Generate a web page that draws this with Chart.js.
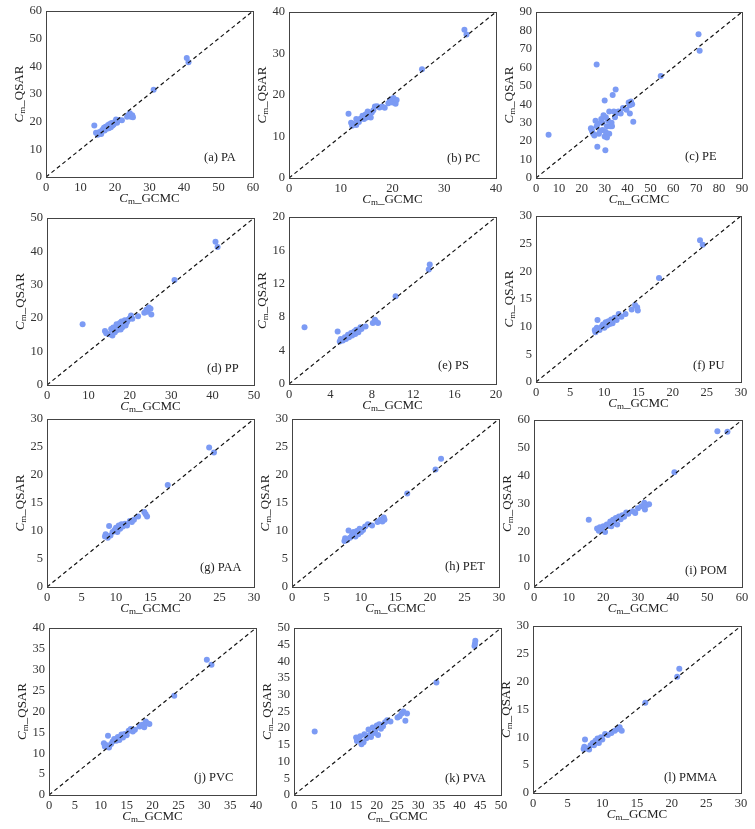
<!DOCTYPE html>
<html>
<head>
<meta charset="utf-8">
<script src="https://cdn.jsdelivr.net/npm/chart.js@4.4.0/dist/chart.umd.min.js"></script>
<style>
  html, body { margin: 0; padding: 0; background: #fff; }
  #wrap { position: relative; width: 755px; height: 829px; background: #fff; overflow: hidden; }
  #wrap canvas { position: absolute; }
</style>
</head>
<body>
<div id="wrap"></div>
<script>
// panel names and axis ranges
var panelNames = ['(a) PA', '(b) PC', '(c) PE', '(d) PP', '(e) PS', '(f) PU',
                  '(g) PAA', '(h) PET', '(i) POM', '(j) PVC', '(k) PVA', '(l) PMMA'];
var axisMax = [60, 40, 90, 50, 20, 30, 30, 30, 60, 40, 50, 30];
var tickStep = [10, 10, 10, 10, 4, 5, 5, 5, 10, 5, 5, 5];

// Cm_GCMC (x) and Cm_QSAR (y) per polymer
var paX = [14.0,14.5,15.0,15.5,16.0,16.3,16.8,17.0,17.3,17.6,18.0,18.2,18.5,18.8,19.0,19.3,19.6,20.0,20.3,20.6,21.0,22.0,23.5,24.0,24.3,24.6,25.0,25.2,31.2,40.8,41.3];
var paY = [18.6,16.0,15.3,16.3,15.5,17.0,17.8,16.8,18.2,17.4,18.8,17.6,19.2,18.0,19.5,18.6,19.0,20.0,20.8,19.6,20.6,20.5,21.8,22.5,23.0,21.8,22.3,21.6,31.5,43.0,41.5];

var pcX = [11.5,12.0,12.2,12.5,13.0,13.0,13.5,13.8,14.2,14.5,14.8,15.0,15.2,15.5,15.8,16.0,16.3,16.6,17.0,17.5,18.0,18.5,19.2,19.5,19.8,20.0,20.2,20.5,20.6,20.8,25.7,33.9,34.3];
var pcY = [15.5,13.3,12.6,13.0,12.8,14.2,13.5,14.3,15.0,14.2,15.3,14.6,16.0,15.2,14.6,15.8,16.3,17.2,17.3,17.0,17.2,16.9,18.0,18.6,19.0,18.2,19.3,18.8,17.9,18.8,26.2,35.7,34.6];

var peX = [5.5,24.0,24.5,24.2,25.0,25.5,26.0,26.5,27.0,26.8,26.5,27.5,28.0,28.5,29.0,29.0,29.5,30.0,30.0,30.3,30.5,30.5,31.0,31.0,31.5,32.0,32.0,32.5,33.0,33.5,33.2,34.0,34.5,34.8,35.0,36.0,37.0,38.0,39.5,40.5,41.0,41.0,41.5,42.0,42.5,54.5,71.0,71.5];
var peY = [23.5,27.0,25.5,26.5,24.0,23.0,31.0,28.0,29.5,17.0,61.5,24.0,25.5,32.0,26.0,30.0,34.0,22.5,42.0,15.0,33.0,25.0,28.0,22.0,31.0,24.0,36.0,28.0,30.0,45.0,28.0,36.0,33.0,48.0,35.0,36.0,35.0,38.0,37.0,41.0,35.0,39.5,41.5,40.0,30.5,55.3,78.0,69.0];

var ppX = [8.6,14.0,14.3,15.0,15.5,15.8,16.0,16.4,16.8,17.0,17.3,17.6,17.8,18.0,18.2,18.5,18.8,19.0,19.3,19.6,20.0,20.3,20.6,22.0,23.5,24.0,24.3,24.6,25.0,25.2,30.8,40.7,41.2];
var ppY = [18.2,16.2,15.5,15.2,16.8,14.8,17.2,15.8,18.2,16.5,17.6,18.6,16.6,19.0,17.3,18.2,19.4,17.8,18.8,19.5,20.0,20.8,19.8,20.6,21.6,22.5,21.9,23.2,22.8,21.1,31.4,42.9,41.3];

var psX = [1.5,4.7,4.9,5.0,5.2,5.4,5.5,5.7,5.8,6.0,6.1,6.3,6.4,6.5,6.7,6.9,7.0,7.4,8.1,8.3,8.4,8.6,10.3,13.5,13.6];
var psY = [6.8,6.3,5.1,5.4,5.2,5.6,5.4,5.9,5.6,6.1,5.8,6.3,6.0,6.5,6.2,6.8,6.6,6.9,7.3,7.7,7.5,7.3,10.5,13.7,14.3];

var puX = [8.6,8.7,8.9,9.0,9.3,9.6,9.8,10.0,10.2,10.4,10.6,10.8,11.0,11.2,11.5,11.8,12.1,12.5,13.1,14.0,14.5,14.8,14.9,18.0,24.0,24.4];
var puY = [9.4,9.0,9.8,11.2,9.4,10.0,10.4,9.8,10.8,10.2,11.0,10.5,11.3,10.6,11.6,11.2,12.3,11.8,12.3,13.1,13.9,13.5,12.9,18.8,25.6,24.8];

var paaX = [8.4,8.5,8.8,9.0,9.2,9.5,9.8,10.0,10.2,10.4,10.6,10.8,11.0,11.3,11.6,12.0,12.3,12.6,13.2,14.1,14.3,14.5,17.5,23.5,24.2];
var paaY = [9.0,9.4,8.8,10.9,9.2,9.8,10.2,10.6,9.8,11.0,10.4,11.2,10.8,11.3,11.0,11.8,11.6,12.0,12.6,13.4,13.0,12.6,18.2,24.9,24.0];

var petX = [7.6,7.7,8.0,8.2,8.4,8.7,8.9,9.2,9.4,9.6,9.8,10.0,10.3,10.6,11.0,11.6,12.4,12.8,13.1,13.3,13.4,16.7,20.8,21.6];
var petY = [8.2,8.7,8.4,10.1,8.8,9.3,9.8,9.0,10.0,9.4,10.4,9.8,10.2,10.8,11.2,11.0,11.6,12.0,11.7,12.4,12.0,16.7,21.0,22.9];

var pomX = [15.8,18.2,18.7,19.0,19.5,20.0,20.5,21.0,21.5,22.0,22.3,22.8,23.2,23.6,24.0,24.5,25.0,25.5,26.0,26.6,27.2,28.5,29.2,30.0,31.0,31.8,32.0,32.5,33.2,40.5,52.9,55.8];
var pomY = [24.2,21.0,20.2,21.5,20.8,21.8,19.8,22.5,22.0,23.5,21.8,24.2,23.0,24.8,22.5,25.3,24.3,25.8,25.2,26.8,26.3,27.2,26.6,28.3,29.0,30.3,27.8,29.5,29.7,41.2,56.0,55.8];

var pvcX = [10.6,10.8,11.0,11.4,11.6,12.0,12.3,12.6,13.0,13.3,13.6,14.0,14.3,14.6,15.0,15.4,15.8,16.2,16.6,17.5,18.0,18.4,18.7,19.0,19.4,24.2,30.5,31.4];
var pvcY = [12.4,11.6,12.0,14.2,11.4,12.2,12.8,13.4,13.0,13.9,13.2,14.5,13.8,14.6,14.3,15.4,15.8,15.2,15.6,16.4,16.8,16.2,17.6,17.2,17.0,23.8,32.4,31.2];

var pvaX = [5.0,15.0,15.2,15.6,16.0,16.3,16.8,17.0,17.5,18.0,18.3,18.6,19.0,19.3,19.6,20.0,20.3,20.6,21.0,21.5,22.0,22.5,23.3,25.0,25.5,26.0,26.4,26.9,27.3,34.4,43.6,43.7,43.8];
var pvaY = [19.0,17.2,16.2,16.8,17.6,15.2,15.8,18.2,17.0,19.6,18.0,17.4,20.2,18.6,19.2,20.8,18.0,21.2,19.8,20.6,21.8,22.4,22.0,23.2,23.6,24.4,25.0,22.2,24.4,33.7,44.6,45.3,46.2];

var pmmaX = [7.3,7.4,7.5,7.8,8.1,8.3,8.6,8.8,9.0,9.3,9.5,9.8,10.0,10.4,10.8,11.3,11.8,12.2,12.5,12.8,16.2,20.8,21.1];
var pmmaY = [7.9,8.3,9.6,8.0,7.8,8.6,9.0,8.6,9.4,9.8,9.0,10.0,9.6,10.6,10.4,10.8,11.2,11.5,11.8,11.2,16.2,20.9,22.3];

var xsList = [paX, pcX, peX, ppX, psX, puX, paaX, petX, pomX, pvcX, pvaX, pmmaX];
var ysList = [paY, pcY, peY, ppY, psY, puY, paaY, petY, pomY, pvcY, pvaY, pmmaY];

// page layout: plot boxes [left, top, right, bottom] and panel label spots
var boxes = [
  [46, 11, 253, 177], [289, 12, 496, 178], [536, 12, 742, 178],
  [47, 218, 254, 385], [289, 217, 496, 384], [536, 216, 741, 382],
  [47, 419, 254, 587], [292, 419, 499, 587], [534, 420, 742, 587],
  [49, 628, 256, 795], [294, 628, 501, 795], [533, 626, 741, 793]
];
var labelPos = [[204,158],[447,159],[685,157],[207,369],[438,366],[693,366],
                [200,568],[445,567],[685,571],[194,778],[445,779],[664,778]];

var FONT = "'Liberation Serif', 'Times New Roman', serif";
var PT_COLOR = '#7c9bf4';
var PADL = 50, PADT = 12, PADR = 14, PADB = 36;

function drawCm(ctx, cx, cy, suffix, vertical) {
  var parts = [
    { t: 'C', f: 'italic 13px ' + FONT, dy: 0 },
    { t: 'm', f: '9px ' + FONT, dy: 3 },
    { t: '_' + suffix, f: '13px ' + FONT, dy: 0 }
  ];
  var w = 0;
  parts.forEach(function(p) { ctx.font = p.f; p.w = ctx.measureText(p.t).width; w += p.w; });
  ctx.save();
  ctx.translate(cx, cy);
  if (vertical) ctx.rotate(-Math.PI / 2);
  ctx.fillStyle = '#222';
  ctx.textBaseline = 'middle';
  ctx.textAlign = 'left';
  var x = -w / 2;
  parts.forEach(function(p) { ctx.font = p.f; ctx.fillText(p.t, x, p.dy); x += p.w; });
  ctx.restore();
}

var framePlugin = {
  id: 'frame',
  afterDraw: function(chart, args, opts) {
    var ctx = chart.ctx, a = chart.chartArea;
    ctx.save();
    ctx.strokeStyle = '#444';
    ctx.lineWidth = 1;
    ctx.strokeRect(Math.round(a.left) + 0.5, Math.round(a.top) + 0.5,
                   Math.round(a.right - a.left), Math.round(a.bottom - a.top));
    ctx.fillStyle = '#222';
    ctx.font = '12.5px ' + FONT;
    ctx.textBaseline = 'middle';
    ctx.textAlign = 'left';
    ctx.fillText(opts.name, opts.lx, opts.ly);
    ctx.restore();
    drawCm(ctx, a.left - 26, (a.top + a.bottom) / 2, 'QSAR', true);
    drawCm(ctx, (a.left + a.right) / 2, a.bottom + 22, 'GCMC', false);
  }
};

var wrap = document.getElementById('wrap');
boxes.forEach(function(b, i) {
  var cv = document.createElement('canvas');
  var cw = b[2] - b[0] + PADL + PADR, ch = b[3] - b[1] + PADT + PADB;
  var offX = b[0] - PADL, offY = b[1] - PADT;
  cv.width = cw; cv.height = ch;
  cv.style.left = offX + 'px'; cv.style.top = offY + 'px';
  cv.style.width = cw + 'px'; cv.style.height = ch + 'px';
  wrap.appendChild(cv);

  var max = axisMax[i];
  var pts = xsList[i].map(function(x, k) { return { x: x, y: ysList[i][k] }; });
  var tickOpts = { stepSize: tickStep[i], color: '#333', font: { family: FONT, size: 12.5 }, maxRotation: 0, autoSkip: false };

  new Chart(cv, {
    type: 'scatter',
    data: {
      datasets: [
        { type: 'line', data: [{ x: 0, y: 0 }, { x: max, y: max }], borderColor: '#111', borderWidth: 1.2,
          borderDash: [4, 3], pointRadius: 0, fill: false, order: 0 },
        { data: pts, backgroundColor: PT_COLOR, borderWidth: 0, pointRadius: 3, order: 1 }
      ]
    },
    options: {
      responsive: false,
      animation: false,
      devicePixelRatio: 1,
      layout: { padding: { top: PADT, right: PADR, left: 0, bottom: 0 } },
      plugins: {
        legend: { display: false },
        tooltip: { enabled: false },
        frame: { name: panelNames[i], lx: labelPos[i][0] - offX, ly: labelPos[i][1] - offY }
      },
      scales: {
        x: {
          type: 'linear', min: 0, max: max,
          grid: { display: false, drawTicks: false }, border: { display: false },
          ticks: Object.assign({ padding: 3 }, tickOpts),
          afterFit: function(s) { s.height = PADB; }
        },
        y: {
          type: 'linear', min: 0, max: max,
          grid: { display: false, drawTicks: false }, border: { display: false },
          ticks: Object.assign({ padding: 4 }, tickOpts),
          afterFit: function(s) { s.width = PADL; }
        }
      }
    },
    plugins: [framePlugin]
  });
});
</script>
</body>
</html>
